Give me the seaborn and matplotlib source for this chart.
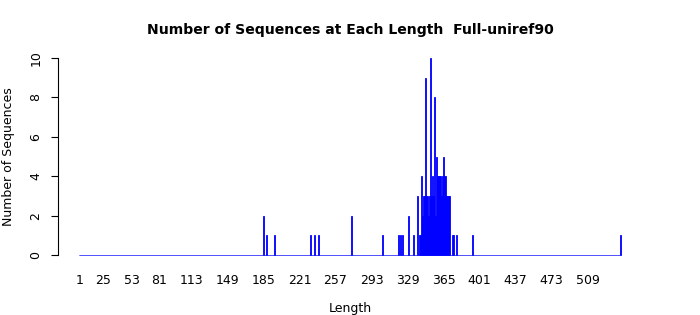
import matplotlib
matplotlib.use("Agg")
import matplotlib.pyplot as plt
import seaborn as sns
import pandas as pd
import numpy as np

# observed lengths (with at least one sequence) and their counts
lengths = [185, 188, 196, 232, 236, 240, 273, 304, 320, 322, 324, 330, 335,
           339, 341, 342, 343, 344, 345, 346, 347, 348, 349, 350, 351, 352,
           353, 354, 355, 356, 357, 358, 359, 360, 361, 362, 363, 364, 365,
           366, 367, 368, 369, 370, 371, 374, 375, 378, 394, 542]
counts = [2, 1, 1, 1, 1, 1, 2, 1, 1, 1, 1, 2, 1,
          3, 1, 1, 4, 2, 3, 3, 9, 3, 3, 2, 3, 10,
          3, 4, 3, 8, 2, 5, 4, 4, 4, 4, 3, 4, 5,
          4, 4, 3, 3, 3, 3, 1, 1, 1, 1, 1]
min_len, max_len = 1, 542
tick_labels = [1, 25, 53, 81, 113, 149, 185, 221, 257, 293, 329, 365, 401, 437, 473, 509]

full = pd.Series(counts, index=lengths).reindex(range(min_len, max_len + 1), fill_value=0)
df = pd.DataFrame({"Length": full.index, "Count": full.values})

sns.set_style("white")
plt.rcParams["font.family"] = ["DejaVu Sans"]
plt.rcParams["text.color"] = "black"
plt.rcParams["axes.labelcolor"] = "black"
plt.rcParams["xtick.color"] = "black"
plt.rcParams["ytick.color"] = "black"

fig = plt.figure(figsize=(7, 3.15), dpi=100)
ax = fig.add_axes([57.5 / 700, 1 - 262.9 / 315, 585 / 700, 212.8 / 315])

sns.barplot(data=df, x="Length", y="Count", native_scale=True, color="blue",
            saturation=1, width=1, edgecolor="blue", linewidth=0.6,
            errorbar=None, ax=ax)

ax.set_xlim(-21, 564)
ax.set_ylim(-0.4, 10.4)
ax.set_xticks(tick_labels)
ax.set_xticklabels([str(t) for t in tick_labels], fontsize=9)
ax.tick_params(axis="x", length=0, pad=8)
ax.set_yticks([0, 2, 4, 6, 8, 10])
ax.set_yticklabels(["0", "2", "4", "6", "8", "10"], fontsize=9, rotation=90, va="center")
ax.tick_params(axis="y", length=5, width=0.8, color="black", pad=6, left=True)

for s in ["top", "right", "bottom"]:
    ax.spines[s].set_visible(False)
ax.spines["left"].set_bounds(0, 10)
ax.spines["left"].set_color("black")
ax.spines["left"].set_linewidth(0.8)

ax.set_xlabel("Length", fontsize=9, labelpad=10.5, color="black")
ax.set_ylabel("Number of Sequences", fontsize=9, labelpad=10, color="black")
fig.text(350 / 700, 1 - 30 / 315, "Number of Sequences at Each Length  Full-uniref90",
         ha="center", va="center", fontsize=10.1, fontweight="bold", color="black")

fig.savefig("out.png", dpi=100)
